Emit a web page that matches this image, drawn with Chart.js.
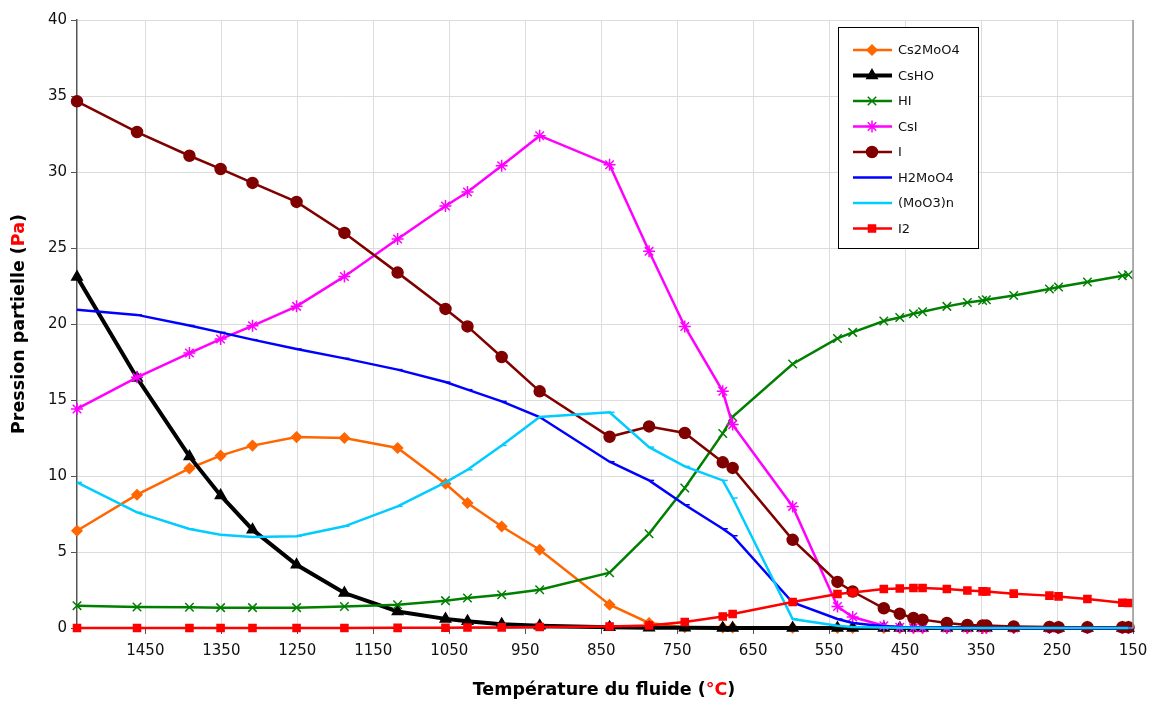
<!DOCTYPE html>
<html>
<head>
<meta charset="utf-8">
<script src="https://cdn.jsdelivr.net/npm/chart.js@4"></script>
<style>
  html, body { margin: 0; padding: 0; background: #fff; }
  #wrap { width: 1149px; height: 702px; }
</style>
</head>
<body>
<div id="wrap"><canvas id="lineChart"></canvas></div>
<script>
// temperatures of the fluid (°C), one per computed point
const temperatures = [1540, 1461, 1392, 1351, 1309, 1251, 1188, 1118, 1055, 1026, 981, 931, 839, 787, 740, 690, 677,
  598, 539, 519, 478, 457, 439, 427, 395, 368, 348, 343, 307, 260, 248, 210, 164, 156];

const xTickLabels = [1450, 1350, 1250, 1150, 1050, 950, 850, 750, 650, 550, 450, 350, 250, 150];

// partial pressures (Pa)
const cs2moo4 = [6.4, 8.77, 10.5, 11.34, 12.0, 12.56, 12.5, 11.84, 9.49, 8.22, 6.68, 5.15, 1.53, 0.33, 0.05, 0.03, 0.03,
  0.02, 0.01, 0.01, 0, 0, 0, 0, 0, 0, 0, 0, 0, 0, 0, 0, 0, 0];
const csho = [23.1, 16.45, 11.29, 8.72, 6.47, 4.16, 2.3, 1.09, 0.6, 0.45, 0.25, 0.15, 0.05, 0.02, 0.01, 0, 0,
  0, 0, 0, 0, 0, 0, 0, 0, 0, 0, 0, 0, 0, 0, 0, 0, 0];
const hi = [1.47, 1.38, 1.36, 1.34, 1.34, 1.34, 1.42, 1.53, 1.8, 1.97, 2.19, 2.52, 3.64, 6.2, 9.21, 12.8, 13.9,
  17.37, 19.05, 19.45, 20.2, 20.43, 20.68, 20.81, 21.16, 21.42, 21.55, 21.6, 21.88, 22.3, 22.43, 22.76, 23.18, 23.24];
const csi = [14.41, 16.49, 18.09, 19.01, 19.88, 21.16, 23.13, 25.59, 27.76, 28.68, 30.41, 32.39, 30.48, 24.78, 19.84, 15.57, 13.38,
  8.0, 1.42, 0.72, 0.15, 0.05, 0.02, 0.01, 0, 0, 0, 0, 0, 0, 0, 0, 0, 0];
const iodine = [34.65, 32.63, 31.07, 30.2, 29.28, 28.03, 25.99, 23.38, 20.99, 19.84, 17.83, 15.57, 12.58, 13.26, 12.83, 10.9, 10.53,
  5.8, 3.03, 2.4, 1.3, 0.94, 0.66, 0.55, 0.33, 0.2, 0.17, 0.16, 0.1, 0.07, 0.05, 0.05, 0.05, 0.05];
const h2moo4 = [20.94, 20.6, 19.9, 19.45, 18.97, 18.36, 17.74, 17.0, 16.18, 15.68, 14.91, 13.88, 10.94, 9.71, 8.11, 6.53, 6.07,
  1.68, 0.59, 0.33, 0.12, 0.06, 0.03, 0.02, 0.01, 0, 0, 0, 0, 0, 0, 0, 0, 0];
const moo3n = [9.58, 7.61, 6.51, 6.14, 5.99, 6.03, 6.69, 8.0, 9.58, 10.41, 12.01, 13.88, 14.19, 11.9, 10.63, 9.71, 8.55,
  0.59, 0.15, 0.06, 0.03, 0.02, 0.01, 0.01, 0, 0, 0, 0, 0, 0, 0, 0, 0, 0];
const i2 = [0, 0, 0, 0, 0, 0, 0, 0.01, 0.02, 0.03, 0.04, 0.06, 0.1, 0.17, 0.39, 0.76, 0.92,
  1.71, 2.24, 2.34, 2.57, 2.6, 2.63, 2.63, 2.57, 2.47, 2.41, 2.4, 2.26, 2.13, 2.08, 1.91, 1.66, 1.64];

const FONT = "'DejaVu Sans', Verdana, sans-serif";

function series(label, values, color, style, radius, width) {
  return {
    label: label,
    data: temperatures.map((t, i) => ({ x: t, y: values[i] })),
    borderColor: color,
    backgroundColor: color,
    pointBackgroundColor: color,
    pointBorderColor: color,
    pointStyle: style,
    pointRadius: radius,
    pointBorderWidth: 1.5,
    borderWidth: width,
    tension: 0,
    clip: false,
  };
}

const datasets = [
  series("Cs2MoO4", cs2moo4, "#FF6600", "rectRot", 5, 2.5),
  series("CsHO", csho, "#000000", "triangle", 6, 4),
  series("HI", hi, "#008000", "crossRot", 6, 2.5),
  series("CsI", csi, "#FF00FF", "star", 6, 2.5),
  series("I", iodine, "#800000", "circle", 5.5, 2.5),
  series("H2MoO4", h2moo4, "#0000FF", "dash", 5, 2.5),
  series("(MoO3)n", moo3n, "#00CCFF", "dash", 5, 2.5),
  series("I2", i2, "#FF0000", "rect", 5, 2.5),
];
// later series on top, like the original
datasets.forEach((d, i) => { d.order = datasets.length - i; });

const legendBox = {
  id: "legendBox",
  afterDraw(chart) {
    const ctx = chart.ctx;
    const sets = chart.data.datasets;
    ctx.save();
    ctx.fillStyle = "#fff";
    ctx.fillRect(838, 27, 140, 221);
    ctx.strokeStyle = "#000";
    ctx.lineWidth = 1;
    ctx.strokeRect(838.5, 27.5, 140, 221);
    sets.forEach((d, i) => {
      const y = 50 + i * 25.5;
      ctx.strokeStyle = d.borderColor;
      ctx.lineWidth = d.borderWidth;
      ctx.beginPath();
      ctx.moveTo(853, y);
      ctx.lineTo(892, y);
      ctx.stroke();
      ctx.fillStyle = d.pointBackgroundColor;
      ctx.strokeStyle = d.pointBorderColor;
      ctx.lineWidth = 1.5;
      if (d.pointStyle !== "dash") {
        Chart.helpers.drawPoint(ctx, { pointStyle: d.pointStyle, radius: d.pointRadius, rotation: 0, borderWidth: 1.5 }, 872, y);
      }
      ctx.fillStyle = "#111";
      ctx.font = "13px " + FONT;
      ctx.textBaseline = "middle";
      ctx.textAlign = "left";
      ctx.fillText(d.label, 898, y + 1);
    });
    ctx.restore();
  },
};

function drawParts(ctx, parts, cx, cy) {
  let total = 0;
  parts.forEach((p) => { total += ctx.measureText(p[0]).width; });
  let x = cx - total / 2;
  parts.forEach((p) => {
    ctx.fillStyle = p[1];
    ctx.fillText(p[0], x, cy);
    x += ctx.measureText(p[0]).width;
  });
}

const axisTitles = {
  id: "axisTitles",
  afterDraw(chart) {
    const ctx = chart.ctx;
    const area = chart.chartArea;
    ctx.save();
    ctx.font = "bold 17.5px " + FONT;
    ctx.textBaseline = "middle";
    ctx.textAlign = "left";
    drawParts(ctx, [["Température du fluide (", "#000"], ["°C", "#FF0000"], [")", "#000"]], 604, 690);
    ctx.translate(19, (area.top + area.bottom) / 2);
    ctx.rotate(-Math.PI / 2);
    drawParts(ctx, [["Pression partielle (", "#000"], ["Pa", "#FF0000"], [")", "#000"]], 0, 0);
    ctx.restore();
    // plot frame right edge
    ctx.save();
    ctx.strokeStyle = "#999";
    ctx.lineWidth = 1.5;
    ctx.beginPath();
    ctx.moveTo(area.right, area.top);
    ctx.lineTo(area.right, area.bottom);
    ctx.stroke();
    ctx.restore();
  },
};

const ctx = document.getElementById("lineChart");
new Chart(ctx, {
  type: "line",
  data: { datasets: datasets },
  options: {
    responsive: true,
    maintainAspectRatio: false,
    animation: false,
    layout: { padding: { top: 20, right: 16, left: 0, bottom: 0 } },
    plugins: {
      legend: { display: false },
      tooltip: { enabled: false },
    },
    scales: {
      x: {
        type: "linear",
        reverse: true,
        min: 150,
        max: 1540,
        afterBuildTicks: (scale) => {
          scale.ticks = xTickLabels.map((v) => ({ value: v }));
        },
        afterFit: (scale) => {
          scale.height = 74;
          scale.paddingLeft = 0;
          scale.paddingRight = 0;
        },
        ticks: {
          color: "#111",
          font: { family: FONT, size: 15 },
          maxRotation: 0,
          autoSkip: false,
          padding: 8,
          callback: (v) => String(v),
        },
        grid: { color: "#dcdcdc", lineWidth: 1, tickLength: 6, tickColor: "#555" },
        border: { color: "#555", width: 1.5 },
      },
      y: {
        min: 0,
        max: 40,
        afterFit: (scale) => {
          scale.width = 77;
          scale.paddingTop = 0;
          scale.paddingBottom = 0;
        },
        ticks: {
          stepSize: 5,
          color: "#111",
          font: { family: FONT, size: 15 },
          padding: 4,
        },
        grid: { color: "#dcdcdc", lineWidth: 1, tickLength: 6, tickColor: "#555" },
        border: { color: "#555", width: 1.5 },
      },
    },
  },
  plugins: [legendBox, axisTitles],
});
</script>
</body>
</html>
